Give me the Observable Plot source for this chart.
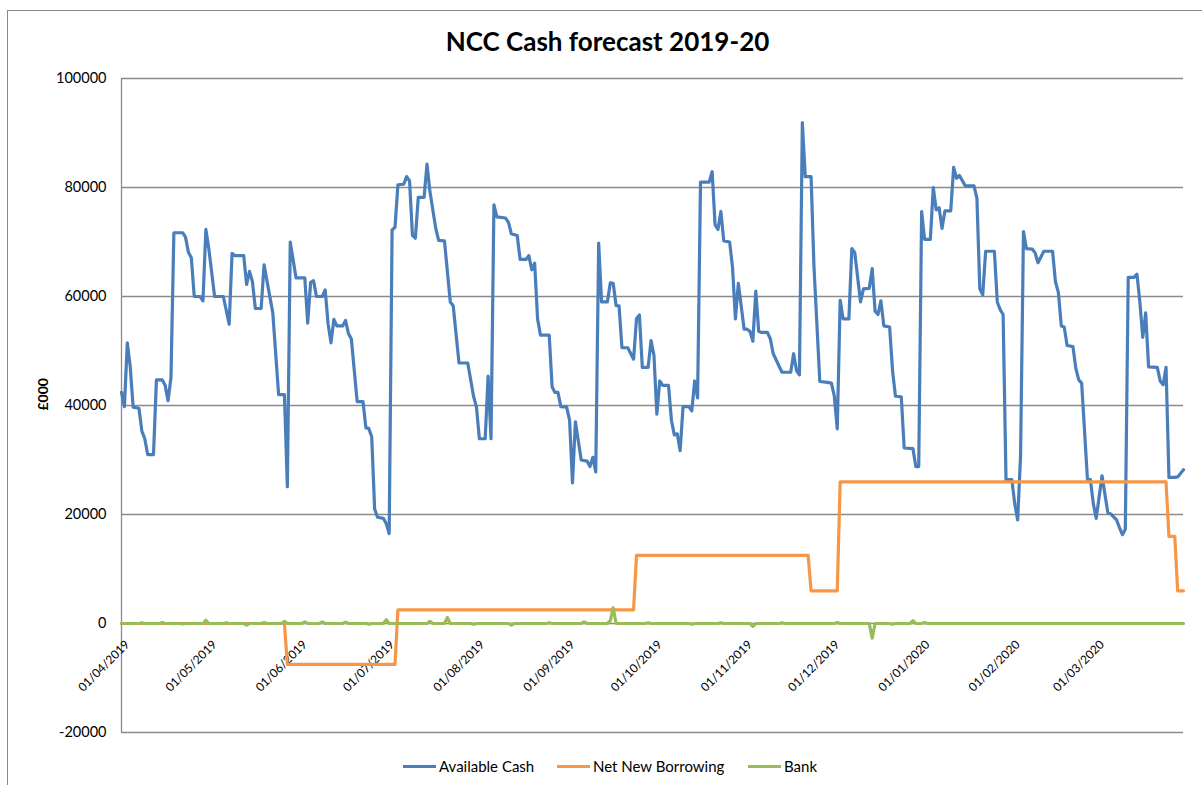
<!DOCTYPE html>
<html><head><meta charset="utf-8">
<script src="https://cdn.jsdelivr.net/npm/d3@7"></script>
<script src="https://cdn.jsdelivr.net/npm/@observablehq/plot@0.6"></script>
<style>
body{margin:0;background:#fff;font-family:Lato,sans-serif;}
#wrap{position:relative;width:1202px;height:785px;overflow:hidden;background:#fff;}
#frame{position:absolute;left:7px;top:10px;width:1210px;height:790px;border:1px solid #8a8a8a;box-sizing:border-box;}
#title{position:absolute;left:0;width:1215px;top:28px;text-align:center;font-weight:bold;font-size:26px;line-height:26px;color:#000;font-family:Lato,sans-serif;}
#chart{position:absolute;left:0;top:60px;}
#legend{position:absolute;top:756px;left:0;width:1202px;height:20px;font-size:15px;font-family:Lato,sans-serif;color:#000;}
.item{position:absolute;top:0;height:20px;display:flex;align-items:center;white-space:nowrap;}
.sw{width:33px;height:3px;margin-right:3px;}
</style></head>
<body>
<div id="wrap">
  <div id="frame"></div>
  <div id="title">NCC Cash forecast 2019-20</div>
  <div id="chart"></div>
  <div id="legend"></div>
</div>
<script>
// Days counted from 01/04/2019
const seriesNames = ["Available Cash", "Net New Borrowing", "Bank"];
const seriesColors = ["#4A7EBB", "#F79646", "#9BBB59"];

const cashDay = [0,1,2,3,4,6,7,8,9,11,12,14,15,16,17,18,21,22,23,24,25,27,28,29,30,32,35,37,38,39,42,43,44,45,46,48,49,52,54,56,57,58,60,63,64,65,66,67,69,70,71,72,73,74,76,77,78,79,81,83,84,85,86,87,88,90,91,92,93,94,95,97,98,99,100,101,102,104,105,106,108,109,111,113,114,116,119,121,122,123,125,126,127,128,129,132,133,134,136,137,139,140,141,142,143,144,147,148,149,150,151,153,154,155,156,158,160,161,162,163,164,165,167,168,169,170,171,172,174,176,177,178,179,181,182,183,184,185,186,188,189,190,191,192,193,195,196,197,198,199,202,203,204,205,206,207,209,210,211,212,214,215,216,217,218,219,220,222,223,224,227,230,231,232,233,234,235,237,238,240,242,244,245,246,247,248,250,251,252,254,255,257,258,259,260,261,262,264,265,266,268,269,272,273,274,275,276,278,279,280,281,282,283,285,286,287,288,290,293,294,295,296,297,300,301,302,303,304,306,307,308,309,310,311,313,314,315,317,320,321,322,323,324,325,327,328,329,330,332,333,334,335,337,339,340,342,343,344,345,346,348,349,350,351,352,353,356,357,358,359,360,362,363,365];
const cashVal = [42400,39800,51500,47100,39700,39500,35300,33900,31000,31000,44700,44700,43700,40900,45100,71700,71700,70900,68100,67100,60000,60000,59200,72300,68800,60000,60000,54900,67900,67500,67500,62200,64600,62700,57800,57800,65800,57000,42000,42000,25100,70000,63400,63400,55100,62600,62900,60000,60000,61200,55000,51500,55800,54600,54600,55600,53200,52200,40700,40700,35900,35800,34200,21000,19500,19300,18300,16500,72200,72700,80500,80600,82000,81200,71200,70700,78200,78200,84300,79300,72500,70300,70200,59000,58300,47800,47800,41700,39700,33900,33900,45400,33900,76800,74600,74400,73600,71500,71200,66800,66800,67500,64900,66100,55900,52900,52900,43400,42400,42400,39800,39700,37300,25800,37000,30000,29800,28800,30500,27800,69800,59000,59000,62500,62400,58300,58300,50600,50600,48500,55900,56600,47000,47000,51900,49200,38400,44500,43700,43700,37300,34600,34800,31700,39800,39800,39000,44500,41400,81000,81000,82900,73200,72300,75600,70200,70000,65400,55900,62400,54000,54000,53600,51800,61000,53600,53400,53400,52200,49500,46100,46100,49500,46400,45600,91900,82000,82000,65400,44400,44300,44100,41700,35700,59300,55900,55900,68800,68100,59000,61400,61500,65100,57300,56700,59200,54600,54400,46400,41700,41600,32200,32100,28800,28800,75600,70500,70500,80000,75900,76300,72500,75700,75700,83700,81700,82200,80300,80300,78000,61400,60300,68300,68300,59000,57600,56700,26400,26400,22000,19000,30800,71900,68800,68700,68000,66200,68300,68300,62700,60700,54600,54400,51000,50800,46800,44700,44100,26400,26400,22000,19300,27100,20300,20100,19000,17600,16300,17300,63500,63500,64100,59000,52500,57000,47100,47000,44500,43800,47000,26800,26800,26900,28200];

const borrowDay = [0,56,57,94,95,176,177,236,237,246,247,359,360,362,363,365];
const borrowVal = [0,0,-7500,-7500,2500,2500,12500,12500,6000,6000,26000,26000,16000,16000,6000,6000];

const bankDay = [0,6,7,8,13,14,15,20,21,22,28,29,30,35,36,37,42,43,44,48,49,50,55,56,57,62,63,64,68,69,70,76,77,78,84,85,86,90,91,92,105,106,107,111,112,113,120,121,122,133,134,135,146,147,148,158,159,160,167,168,169,170,180,181,182,195,196,197,205,206,207,216,217,218,226,227,228,245,246,247,257,258,259,264,265,266,271,272,273,275,276,277,365];
const bankVal = [0,0,150,0,0,200,0,0,-100,0,0,600,0,0,150,0,0,-300,0,0,200,0,0,400,0,0,300,0,0,300,0,0,250,0,0,-150,0,0,700,0,0,400,0,0,1100,0,0,-150,0,0,-300,0,0,150,0,0,300,0,0,500,2900,0,0,150,0,0,-150,0,0,150,0,0,-500,0,0,150,0,0,200,0,0,-2700,0,0,-150,0,0,500,0,0,200,0,0];

const yTicks = [-20000,0,20000,40000,60000,80000,100000];
const xTickLabels = ["01/04/2019","01/05/2019","01/06/2019","01/07/2019","01/08/2019","01/09/2019","01/10/2019","01/11/2019","01/12/2019","01/01/2020","01/02/2020","01/03/2020"];

const start = Date.UTC(2019, 3, 1);
const toDate = d => new Date(start + d * 864e5);
const parseDMY = s => { const [dd, mm, yy] = s.split("/").map(Number); return new Date(Date.UTC(yy, mm - 1, dd)); };

const cash = cashDay.map((d, i) => ({date: toDate(d), v: cashVal[i]}));
const borrow = borrowDay.map((d, i) => ({date: toDate(d), v: borrowVal[i]}));
const bank = bankDay.map((d, i) => ({date: toDate(d), v: bankVal[i]}));
const xTicks = xTickLabels.map(s => ({date: parseDMY(s), label: s}));

const chart = Plot.plot({
  width: 1202,
  height: 700,
  marginLeft: 121,
  marginRight: 19,
  marginTop: 18,
  marginBottom: 28,
  x: {type: "utc", domain: [toDate(0), toDate(365)], axis: null},
  y: {domain: [-20000, 100000], axis: null},
  style: {fontFamily: "Lato, sans-serif", fontSize: "14px", color: "#000", background: "transparent", overflow: "visible"},
  marks: [
    Plot.gridY(yTicks, {stroke: "#8a8a8a", strokeOpacity: 1, strokeWidth: 1.3}),
    Plot.ruleX([toDate(0)], {stroke: "#8a8a8a", strokeWidth: 1.3}),
    Plot.axisY(yTicks, {tickSize: 0, tickPadding: 15, label: null, fontSize: 14.5, tickFormat: d => String(d)}),
    Plot.text(["£000"], {frameAnchor: "left", dx: -78, dy: 5, rotate: -90, fontWeight: "bold", fontSize: 14}),
    Plot.text(xTicks, {x: "date", y: () => 0, text: "label", rotate: -45, textAnchor: "end", dx: 6, dy: 19, fontSize: 12}),
    Plot.line(cash, {x: "date", y: "v", stroke: seriesColors[0], strokeWidth: 3.2, strokeLinejoin: "round"}),
    Plot.line(borrow, {x: "date", y: "v", stroke: seriesColors[1], strokeWidth: 3.2, strokeLinejoin: "round"}),
    Plot.line(bank, {x: "date", y: "v", stroke: seriesColors[2], strokeWidth: 3.2, strokeLinejoin: "round"})
  ]
});
document.getElementById("chart").appendChild(chart);

const legendLeft = [403, 557, 748];
const legend = document.getElementById("legend");
seriesNames.forEach((name, i) => {
  const it = document.createElement("div");
  it.className = "item";
  it.style.left = legendLeft[i] + "px";
  const sw = document.createElement("span");
  sw.className = "sw";
  sw.style.background = seriesColors[i];
  const tx = document.createElement("span");
  tx.textContent = name;
  it.appendChild(sw);
  it.appendChild(tx);
  legend.appendChild(it);
});
</script>
</body></html>
